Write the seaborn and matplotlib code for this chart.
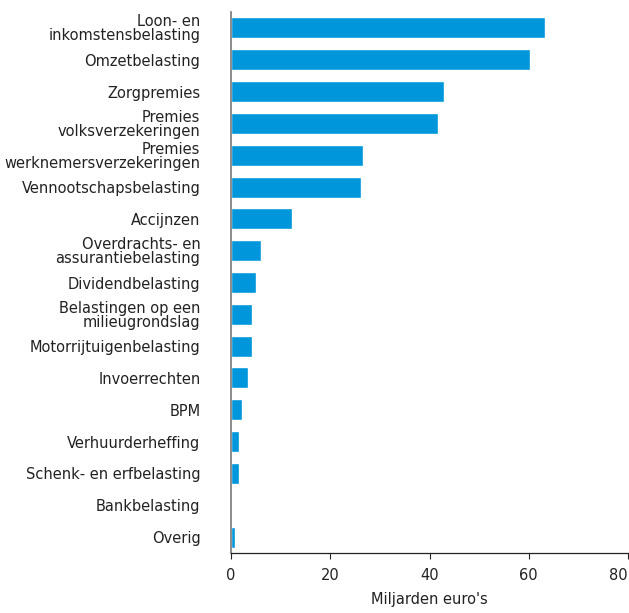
import matplotlib
matplotlib.use("Agg")
import matplotlib.pyplot as plt
import seaborn as sns
import pandas as pd

# ----------------------------------
# Data (miljarden euro's)
# ----------------------------------
categories = [
    "Loon- en\ninkomstensbelasting",
    "Omzetbelasting",
    "Zorgpremies",
    "Premies\nvolksverzekeringen",
    "Premies\nwerknemersverzekeringen",
    "Vennootschapsbelasting",
    "Accijnzen",
    "Overdrachts- en\nassurantiebelasting",
    "Dividendbelasting",
    "Belastingen op een\nmilieugrondslag",
    "Motorrijtuigenbelasting",
    "Invoerrechten",
    "BPM",
    "Verhuurderheffing",
    "Schenk- en erfbelasting",
    "Bankbelasting",
    "Overig",
]
values = [63.3, 60.3, 43.0, 41.8, 26.7, 26.1, 12.2, 6.0, 5.0, 4.3, 4.3, 3.5,
          2.2, 1.6, 1.6, 0.0, 0.8]
xticks = [0, 20, 40, 60, 80]

df = pd.DataFrame({"categorie": categories, "waarde": values})

sns.set_style("white")
plt.rcParams["font.family"] = ["DejaVu Sans"]

fig = plt.figure(figsize=(6.29, 6.13), dpi=100)
ax = fig.add_axes([231 / 629, 1 - 553 / 613, 397 / 629, 541 / 613])

sns.barplot(data=df, x="waarde", y="categorie", color="#0096DC",
            width=0.66, saturation=1, ax=ax)

ax.set_xlim(0, 80)
ax.set_ylim(16.5, -0.5)
ax.set_xticks(xticks)
ax.set_xlabel("Miljarden euro's", fontsize=10.5, color="#222222", labelpad=6)
ax.set_ylabel("")

for lbl in ax.get_yticklabels():
    lbl.set_horizontalalignment("right")
    lbl.set_multialignment("right")
    lbl.set_linespacing(0.9)
ax.tick_params(axis="y", length=0, pad=22, labelsize=10.5, labelcolor="#222222")
ax.tick_params(axis="x", length=4, width=0.8, direction="out", pad=7,
               labelsize=10.5, labelcolor="#222222", bottom=True)
# keep the last tick label inside the figure
ax.get_xticklabels()[-1].set_horizontalalignment("right")

for side in ["top", "right"]:
    ax.spines[side].set_visible(False)
ax.spines["left"].set_color("#777777")
ax.spines["left"].set_linewidth(1.2)
ax.spines["bottom"].set_color("#222222")
ax.spines["bottom"].set_linewidth(0.9)

fig.savefig("out.png", dpi=100)
